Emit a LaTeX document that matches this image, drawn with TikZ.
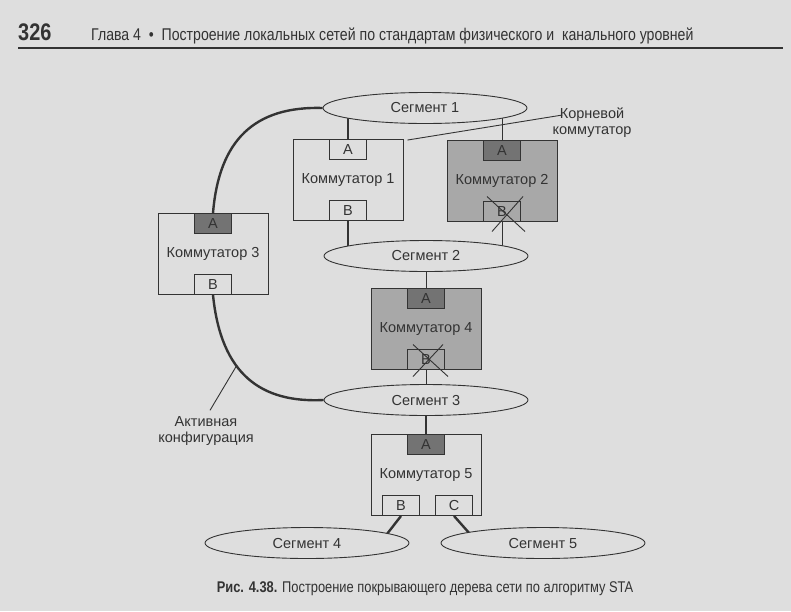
\documentclass[tikz,border=0pt]{standalone}
\usepackage{fontspec}
\setmainfont{Liberation Sans}
\newfontfamily\narrowfont[FakeStretch=0.83]{Liberation Sans}
\usetikzlibrary{shapes.geometric, positioning}
\definecolor{pagebg}{gray}{0.87}
\definecolor{ink}{gray}{0.2}
\definecolor{shade}{gray}{0.66}
\definecolor{darkshade}{gray}{0.45}
\pgfdeclarelayer{bg}
\pgfsetlayers{bg,main}

\tikzset{
  segment/.style={ellipse, draw=ink, line width=0.9pt, fill=pagebg, minimum width=204pt, minimum height=31pt, inner sep=0pt, text=ink, font=\fontsize{14.5}{16}\selectfont},
  switch/.style={rectangle, draw=ink, line width=0.9pt, minimum width=110pt, minimum height=81pt, inner sep=0pt, text=ink, font=\fontsize{14.5}{16}\selectfont},
  port/.style={rectangle, draw=ink, line width=0.9pt, fill=pagebg, minimum width=37pt, minimum height=20pt, inner sep=0pt, text=ink, font=\fontsize{14.5}{16}\selectfont},
  label/.style={align=center, inner sep=0pt, text=ink, font=\fontsize{14.5}{16}\selectfont},
  active/.style={draw=ink, line width=2.4pt},
  link/.style={draw=ink, line width=0.9pt}
}

\begin{document}
\begin{tikzpicture}[x=1pt, y=-1pt]
\begin{pgfonlayer}{bg}
\fill[pagebg] (0,0) rectangle (791,611);
\end{pgfonlayer}
\useasboundingbox (0,0) rectangle (791,611);

% page header
\node[anchor=base west, inner sep=0pt, text=ink, font=\narrowfont\bfseries\fontsize{24}{26}\selectfont] (pagenum) at (18,40) {326};
\node[anchor=base west, inner sep=0pt, text=ink, font=\narrowfont\fontsize{17}{20}\selectfont] (chapter) at (91,40) {Глава 4 \ • \ Построение локальных сетей по стандартам физического и \ канального уровней};
\draw[ink, line width=1.3pt] (18,48) -- (783,48);

% segments
\node[segment] (seg1) at (425,108) {Сегмент 1};
\node[segment] (seg2) at (426,256) {Сегмент 2};
\node[segment] (seg3) at (426,400) {Сегмент 3};
\node[segment] (seg4) at (307,543) {Сегмент 4};
\node[segment] (seg5) at (543,543) {Сегмент 5};

% switches
\node[switch] (k1) at (348,180) {Коммутатор 1};
\node[switch, fill=shade] (k2) at (502,181) {Коммутатор 2};
\node[switch] (k3) at (213,254) {Коммутатор 3};
\node[switch, fill=shade] (k4) at (426,329) {Коммутатор 4};
\node[switch] (k5) at (426,475) {Коммутатор 5};

% ports
\node[port, anchor=north] (k1a) at (k1.north) {A};
\node[port, anchor=south] (k1b) at (k1.south) {B};
\node[port, anchor=north, fill=darkshade] (k2a) at (k2.north) {A};
\node[port, anchor=south, fill=shade] (k2b) at (k2.south) {B};
\node[port, anchor=north, fill=darkshade] (k3a) at (k3.north) {A};
\node[port, anchor=south] (k3b) at (k3.south) {B};
\node[port, anchor=north, fill=darkshade] (k4a) at (k4.north) {A};
\node[port, anchor=south, fill=shade] (k4b) at (k4.south) {B};
\node[port, anchor=north, fill=darkshade] (k5a) at (k5.north) {A};
\node[port, anchor=south] (k5b) at ([xshift=-25pt]k5.south) {B};
\node[port, anchor=south] (k5c) at ([xshift=28pt]k5.south) {C};

% labels
\node[label] (rootlbl) at (592,123) {Корневой\\коммутатор};
\node[label] (actlbl) at (206,431) {Активная\\конфигурация};
\coordinate (actend) at (237,365);

% links
\begin{pgfonlayer}{bg}
\draw[active] (k1a) -- (k1a |- seg1);
\draw[active] (k1b) -- (k1b |- seg2);
\draw[link] (k2a) -- (k2a |- seg1);
\draw[link] (k2b) -- (k2b |- seg2);
\draw[link] (k4a) -- (k4a |- seg2);
\draw[link] (k4b) -- (k4b |- seg3);
\draw[active] (k5a) -- (k5a |- seg3);
\draw[active] (k5b.south) -- ([xshift=-21pt]k5b.south |- seg4);
\draw[active] (k5c.south) -- ([xshift=24pt]k5c.south |- seg5);
\end{pgfonlayer}
\draw[active] (k3a.north) .. controls +(6,-73) and +(-68,-2) .. (seg1.west);
\draw[active] (k3b.south) .. controls +(8,80) and +(-62,3) .. (seg3.west);

% blocked ports
\draw[link] ([shift={(-15,-15)}]k2b.center) -- ([shift={(23,20)}]k2b.center);
\draw[link] ([shift={(21,-15)}]k2b.center) -- ([shift={(-10,20)}]k2b.center);
\draw[link] ([shift={(-13,-15)}]k4b.center) -- ([shift={(22,17)}]k4b.center);
\draw[link] ([shift={(17,-15)}]k4b.center) -- ([shift={(-13,17)}]k4b.center);

% pointers
\draw[link] ([shift={(4,1)}]k1.north east) -- ([shift={(10,-8)}]rootlbl.west);
\draw[link] ([shift={(4,-6)}]actlbl.north) -- (actend);

% caption
\node[anchor=base, inner sep=0pt, text=ink, font=\narrowfont\fontsize{15.5}{18}\selectfont] (caption) at (425,592) {{\bfseries Рис. 4.38.} Построение покрывающего дерева сети по алгоритму STA};
\end{tikzpicture}
\end{document}
